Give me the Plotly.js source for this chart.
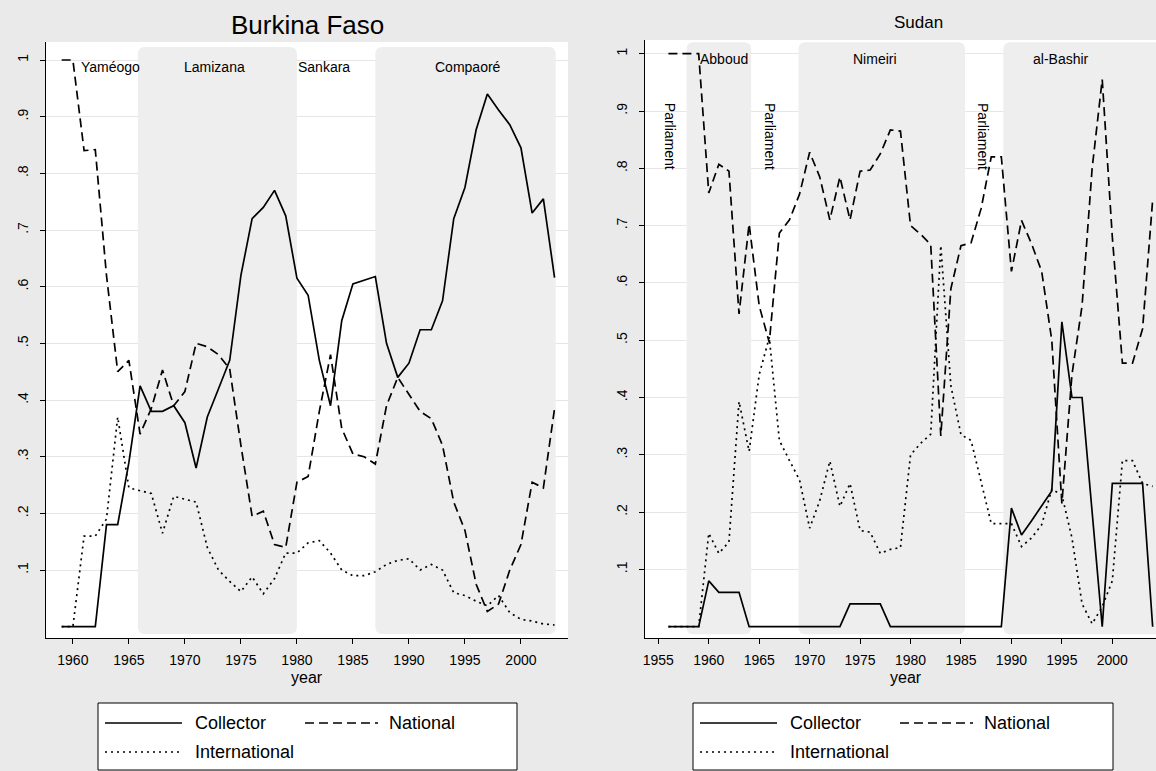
<!DOCTYPE html>
<html>
<head>
<meta charset="utf-8">
<script src="https://cdn.plot.ly/plotly-3.0.1.min.js"></script>
<style>
html,body{margin:0;padding:0;background:#eaeaea;}
#chart{width:1156px;height:771px;}
</style>
</head>
<body>
<div id="chart"></div>
<script>
// ---------------- Burkina Faso ----------------
const bfYears = [1959,1960,1961,1962,1963,1964,1965,1966,1967,1968,1969,1970,1971,1972,1973,1974,1975,1976,1977,1978,1979,1980,1981,1982,1983,1984,1985,1986,1987,1988,1989,1990,1991,1992,1993,1994,1995,1996,1997,1998,1999,2000,2001,2002,2003];
const bfCollector = [0,0,0,0,0.18,0.18,0.29,0.425,0.38,0.38,0.39,0.36,0.28,0.37,0.42,0.47,0.62,0.72,0.74,0.77,0.725,0.615,0.585,0.47,0.39,0.54,0.605,0.612,0.618,0.50,0.44,0.465,0.524,0.524,0.575,0.72,0.775,0.877,0.94,0.912,0.886,0.845,0.73,0.755,0.616];
const bfNational = [1.0,1.0,0.84,0.842,0.62,0.45,0.47,0.34,0.385,0.453,0.39,0.415,0.50,0.494,0.48,0.455,0.32,0.195,0.204,0.145,0.14,0.255,0.265,0.38,0.48,0.35,0.305,0.30,0.287,0.39,0.44,0.41,0.38,0.367,0.32,0.22,0.17,0.075,0.027,0.04,0.10,0.145,0.255,0.245,0.385];
const bfInternational = [0,0,0.16,0.16,0.19,0.37,0.245,0.24,0.235,0.165,0.23,0.225,0.22,0.14,0.10,0.08,0.062,0.088,0.058,0.085,0.13,0.13,0.148,0.152,0.13,0.10,0.09,0.09,0.097,0.11,0.117,0.12,0.10,0.11,0.10,0.06,0.055,0.045,0.037,0.055,0.025,0.013,0.01,0.005,0.003];
const bfTickYears = [1960,1965,1970,1975,1980,1985,1990,1995,2000];
const bfRegimeNames = ['Yaméogo','Lamizana','Sankara','Compaoré'];
const bfRegimeLabelX = [1963.4,1972.6,1982.4,1995.3];
const bfShadeStart = [1965.8,1987.0];
const bfShadeEnd = [1980.0,2003.1];

// ---------------- Sudan ----------------
const sdYears = [1956,1957,1958,1959,1960,1961,1962,1963,1964,1965,1966,1967,1968,1969,1970,1971,1972,1973,1974,1975,1976,1977,1978,1979,1980,1981,1982,1983,1984,1985,1986,1987,1988,1989,1990,1991,1992,1993,1994,1995,1996,1997,1998,1999,2000,2001,2002,2003,2004];
const sdCollector = [0,0,0,0,0.08,0.06,0.06,0.06,0,0,0,0,0,0,0,0,0,0,0.04,0.04,0.04,0.04,0,0,0,0,0,0,0,0,0,0,0,0,0.207,0.16,0.185,0.21,0.237,0.532,0.40,0.40,0.20,0,0.25,0.25,0.25,0.25,0];
const sdNational = [1,1,1,1,0.757,0.807,0.795,0.546,0.703,0.56,0.496,0.687,0.71,0.755,0.828,0.785,0.71,0.785,0.71,0.795,0.797,0.825,0.867,0.865,0.70,0.685,0.667,0.333,0.59,0.665,0.67,0.73,0.82,0.82,0.62,0.709,0.668,0.62,0.50,0.215,0.44,0.56,0.80,0.955,0.68,0.46,0.46,0.52,0.745];
const sdInternational = [0,0,0,0,0.163,0.128,0.148,0.393,0.306,0.44,0.505,0.325,0.29,0.256,0.172,0.22,0.289,0.21,0.25,0.168,0.165,0.128,0.135,0.138,0.30,0.32,0.336,0.665,0.42,0.335,0.325,0.255,0.18,0.18,0.18,0.14,0.155,0.178,0.24,0.23,0.155,0.04,0.005,0.035,0.08,0.29,0.29,0.25,0.245];
const sdTickYears = [1955,1960,1965,1970,1975,1980,1985,1990,1995,2000];
const sdRegimeNames = ['Abboud','Nimeiri','al-Bashir'];
const sdRegimeLabelX = [1961.5,1976.5,1994.9];
const sdParliamentX = [1956.1,1966.0,1987.2];
const sdShadeStart = [1957.8,1968.9,1989.2];
const sdShadeEnd = [1964.2,1985.4,2006.0];

// shared
const yTickVals = [0.1,0.2,0.3,0.4,0.5,0.6,0.7,0.8,0.9,1];
const yTickText = ['.1','.2','.3','.4','.5','.6','.7','.8','.9','1'];
const seriesNames = ['Collector','National','International'];

// ---------------- layout geometry (pixels) ----------------
const W = 1156, H = 771;
const px = v => v / W;
const py = v => 1 - v / H;
const FONT = 'Liberation Sans, Arial, sans-serif';
const DASH = {Collector:'solid', National:'9px,5px', International:'2px,4px'};
const LW = 1.7;

const P1 = {x0:46, x1:568, y0:42, y1:638, xr:[1957.6,2004.2], yr:[-0.0199,1.0318]};
const P2 = {x0:645, x1:1156, y0:40, y1:638, xr:[1953.68,2004.33], yr:[-0.0197,1.0239]};

function roundedRect(P, xa, xb, ya, yb, rpx){
  const rx = rpx * (P.xr[1]-P.xr[0]) / (P.x1-P.x0);
  const ry = rpx * (P.yr[1]-P.yr[0]) / (P.y1-P.y0);
  return 'M'+(xa+rx)+','+yb+' L'+(xb-rx)+','+yb+' Q'+xb+','+yb+' '+xb+','+(yb-ry)+
         ' L'+xb+','+(ya+ry)+' Q'+xb+','+ya+' '+(xb-rx)+','+ya+
         ' L'+(xa+rx)+','+ya+' Q'+xa+','+ya+' '+xa+','+(ya+ry)+
         ' L'+xa+','+(yb-ry)+' Q'+xa+','+yb+' '+(xa+rx)+','+yb+' Z';
}

const traces = [];
function addSeries(xs, ys, name, xa, ya){
  traces.push({x:xs, y:ys, type:'scatter', mode:'lines', name:name,
    xaxis:xa, yaxis:ya, showlegend:false, hoverinfo:'skip',
    line:{color:'#000', width:LW, dash:DASH[name]}});
}
addSeries(bfYears, bfCollector, 'Collector', 'x', 'y');
addSeries(bfYears, bfNational, 'National', 'x', 'y');
addSeries(bfYears, bfInternational, 'International', 'x', 'y');
addSeries(sdYears, sdCollector, 'Collector', 'x2', 'y2');
addSeries(sdYears, sdNational, 'National', 'x2', 'y2');
addSeries(sdYears, sdInternational, 'International', 'x2', 'y2');

const shapes = [];
const SHADE = '#eeeeee';
for (let i=0;i<bfShadeStart.length;i++){
  shapes.push({type:'path', xref:'x', yref:'y', layer:'between',
    path: roundedRect(P1, bfShadeStart[i], bfShadeEnd[i], -0.013, 1.023, 7),
    fillcolor:SHADE, line:{width:0}});
}
for (let i=0;i<sdShadeStart.length;i++){
  shapes.push({type:'path', xref:'x2', yref:'y2', layer:'between',
    path: roundedRect(P2, sdShadeStart[i], sdShadeEnd[i], -0.013, 1.02, 7),
    fillcolor:SHADE, line:{width:0}});
}

const annotations = [];
function ann(o){ annotations.push(Object.assign({showarrow:false, font:{family:FONT, size:14, color:'#000'}}, o)); }

// titles
ann({text:'Burkina Faso', xref:'paper', yref:'paper', x:px(307), y:py(25), xanchor:'center', yanchor:'middle', font:{family:FONT, size:26, color:'#000'}});
ann({text:'Sudan', xref:'paper', yref:'paper', x:px(918), y:py(22), xanchor:'center', yanchor:'middle', font:{family:FONT, size:17, color:'#000'}});
ann({text:'year', xref:'paper', yref:'paper', x:px(307), y:py(677), xanchor:'center', yanchor:'middle', font:{family:FONT, size:16, color:'#000'}});
ann({text:'year', xref:'paper', yref:'paper', x:px(906), y:py(677), xanchor:'center', yanchor:'middle', font:{family:FONT, size:16, color:'#000'}});

// regime labels
bfRegimeNames.forEach((n,i)=>ann({text:n, xref:'x', yref:'y', x:bfRegimeLabelX[i], y:0.988, xanchor:'center', yanchor:'middle'}));
sdRegimeNames.forEach((n,i)=>ann({text:n, xref:'x2', yref:'y2', x:sdRegimeLabelX[i], y:0.99, xanchor:'center', yanchor:'middle'}));
sdParliamentX.forEach(xv=>ann({text:'Parliament', xref:'x2', yref:'y2', x:xv, y:0.856, xanchor:'center', yanchor:'middle', textangle:90}));

// manual legends
function legend(boxX0, boxX1){
  shapes.push({type:'rect', xref:'paper', yref:'paper', x0:px(boxX0), x1:px(boxX1), y0:py(770), y1:py(703),
    line:{color:'#000', width:1}, fillcolor:'#ffffff', layer:'above'});
  const cols = [{k0:boxX0+7, k1:boxX0+84, t:boxX0+95, y:723, name:seriesNames[0]},
                {k0:boxX0+207, k1:boxX0+280, t:boxX0+289, y:723, name:seriesNames[1]},
                {k0:boxX0+7, k1:boxX0+84, t:boxX0+95, y:752, name:seriesNames[2]}];
  cols.forEach(c=>{
    shapes.push({type:'line', xref:'paper', yref:'paper', x0:px(c.k0), x1:px(c.k1), y0:py(c.y), y1:py(c.y),
      line:{color:'#000', width:LW, dash:DASH[c.name]}, layer:'above'});
    ann({text:c.name, xref:'paper', yref:'paper', x:px(c.t), y:py(c.y), xanchor:'left', yanchor:'middle', font:{family:FONT, size:18, color:'#000'}});
  });
}
legend(98, 517);
legend(693, 1113);

function xaxisDef(P, ticks, anchor){
  return {domain:[px(P.x0), px(P.x1)], range:P.xr, anchor:anchor, tickvals:ticks,
    ticks:'outside', ticklen:5, tickcolor:'#000', tickwidth:1, showline:true, linecolor:'#000', linewidth:1.2,
    showgrid:false, zeroline:false, tickfont:{family:FONT, size:14, color:'#000'}, ticklabelstandoff:4, fixedrange:true};
}
function yaxisDef(P, anchor){
  return {domain:[py(P.y1), py(P.y0)], range:P.yr, anchor:anchor, tickvals:yTickVals, ticktext:yTickText,
    tickangle:-90, ticks:'outside', ticklen:5, tickcolor:'#000', tickwidth:1, showline:true, linecolor:'#000', linewidth:1.2,
    showgrid:true, gridcolor:'#e6e6e6', gridwidth:1, zeroline:false,
    tickfont:{family:FONT, size:14, color:'#000'}, ticklabelstandoff:6, fixedrange:true};
}

const layout = {
  width:W, height:H, autosize:false,
  margin:{l:0, r:0, t:0, b:0},
  paper_bgcolor:'#eaeaea', plot_bgcolor:'#ffffff',
  showlegend:false,
  xaxis: xaxisDef(P1, bfTickYears, 'y'),
  yaxis: yaxisDef(P1, 'x'),
  xaxis2: xaxisDef(P2, sdTickYears, 'y2'),
  yaxis2: yaxisDef(P2, 'x2'),
  shapes: shapes,
  annotations: annotations
};

Plotly.newPlot('chart', traces, layout, {displayModeBar:false, staticPlot:true});
</script>
</body>
</html>
